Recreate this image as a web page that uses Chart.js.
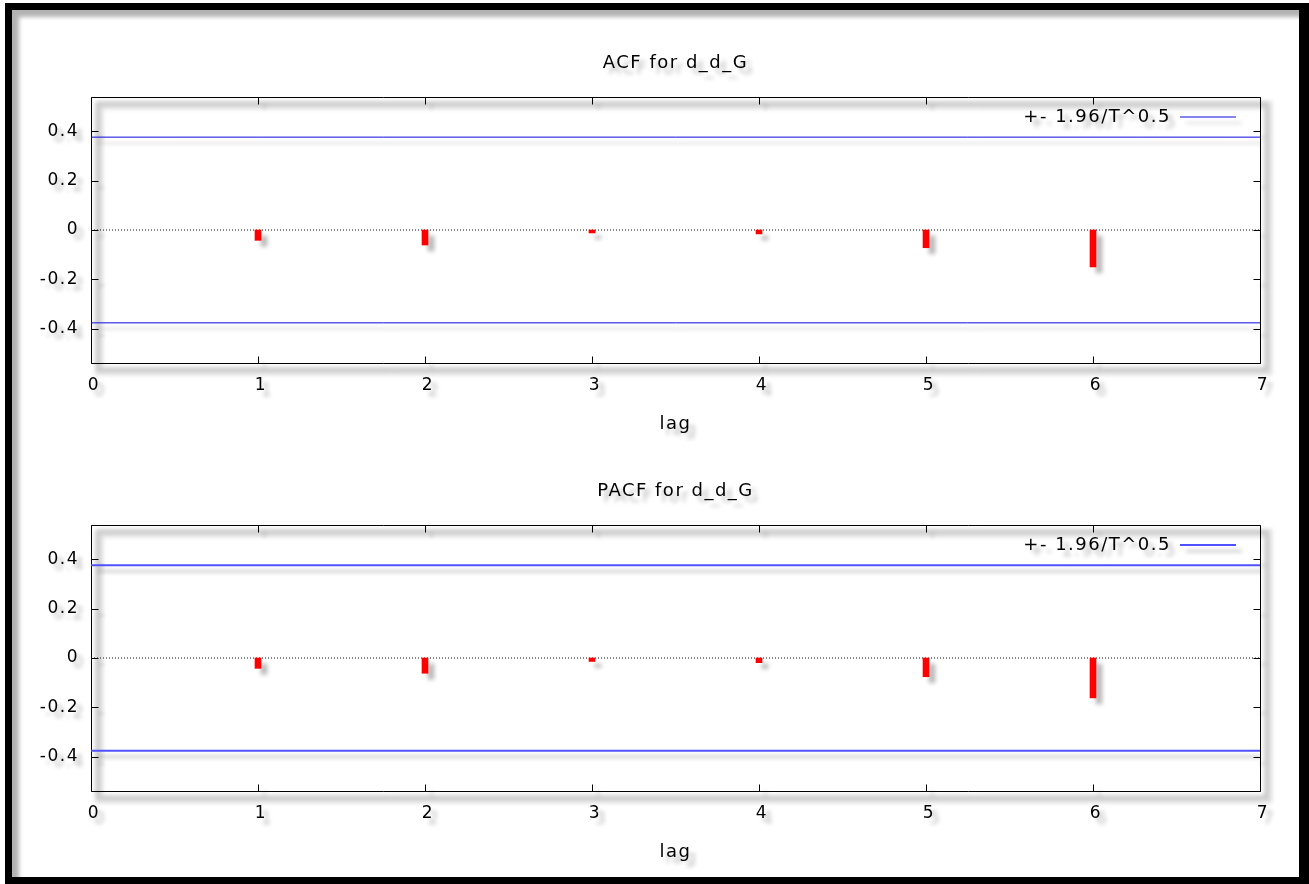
<!DOCTYPE html>
<html><head><meta charset="utf-8">
<script src="https://cdn.jsdelivr.net/npm/chart.js@4.4.0/dist/chart.umd.min.js"></script>
<style>
html,body{margin:0;padding:0;background:#fff;width:1309px;height:884px;overflow:hidden;position:relative;}
#frame{position:absolute;left:5px;top:3px;width:1304px;height:881px;box-sizing:border-box;border-style:solid;border-color:#000;border-width:7px 10px 7px 7px;box-shadow:inset 7px 7px 4px rgba(0,0,0,0.3);}
.wrap{position:absolute;left:0;width:1309px;height:442px;}
canvas{display:block}
</style></head><body>
<div id="frame"></div>
<div class="wrap" style="top:0"><canvas id="acf" width="1309" height="442"></canvas></div>
<div class="wrap" style="top:428px"><canvas id="pacf" width="1309" height="442"></canvas></div>
<script>
// ---- data ----
const lags = [1, 2, 3, 4, 5, 6];
const acfValues  = [-0.042, -0.061, -0.012, -0.016, -0.072, -0.150];
const pacfValues = [-0.042, -0.062, -0.014, -0.019, -0.076, -0.162];
const bandValue = 0.377;              // 1.96/sqrt(T)
const xTicks = [0, 1, 2, 3, 4, 5, 6, 7];
const yTicks = [-0.4, -0.2, 0, 0.2, 0.4];
const xRange = [0, 7];
const yRange = [-0.54, 0.54];
const chartTitles = ['ACF for d_d_G', 'PACF for d_d_G'];
const legendLabel = '+- 1.96/T^0.5';
const xAxisTitle = 'lag';

// ---- styling / helpers ----
const FAMILY = "'DejaVu Sans', Verdana, sans-serif";
const fnt = (s) => ({family: FAMILY, size: s, weight: 'normal', lineHeight: 1.2});
const SPACING = '1.5px';

const decorPlugin = {
  id: 'decor',
  beforeUpdate(chart) { chart.ctx.letterSpacing = SPACING; },
  afterLayout(chart) {
    const a = chart.chartArea;
    const lg = chart.legend;
    if (lg) {
      lg.left = a.left; lg.top = a.top;
      lg.width = (a.right - a.left) - 13;
      lg.right = lg.left + lg.width;
      lg.bottom = lg.top + lg.height;
    }
    const tb = chart.titleBlock;
    if (tb) { tb.left = a.left; tb.right = a.right; tb.width = a.right - a.left; }
  },
  beforeDraw(chart) {
    const c = chart.ctx, a = chart.chartArea;
    c.letterSpacing = SPACING;
    c.save();
    c.filter = 'blur(2px)';
    c.strokeStyle = 'rgba(0,0,0,0.14)';
    c.lineWidth = 8;
    c.strokeRect(a.left + 8, a.top + 8, a.right - a.left, a.bottom - a.top);
    c.restore();
    c.shadowColor = 'rgba(0,0,0,0.28)';
    c.shadowOffsetX = 6; c.shadowOffsetY = 6; c.shadowBlur = 4;
  },
  beforeDatasetsDraw(chart) {
    const c = chart.ctx, a = chart.chartArea, xs = chart.scales.x, ys = chart.scales.y;
    c.save();
    c.strokeStyle = '#000'; c.lineWidth = 1;
    c.beginPath();
    const L = Math.round(a.left) + 0.5, R = Math.round(a.right) + 0.5, T = Math.round(a.top) + 0.5, B = Math.round(a.bottom) + 0.5;
    c.rect(L, T, R - L, B - T);
    xTicks.forEach(v => { const x = Math.round(xs.getPixelForValue(v)) + 0.5; c.moveTo(x, B); c.lineTo(x, B - 7); c.moveTo(x, T); c.lineTo(x, T + 7); });
    yTicks.forEach(v => { const y = Math.round(ys.getPixelForValue(v)) + 0.5; c.moveTo(L, y); c.lineTo(L + 7, y); c.moveTo(R, y); c.lineTo(R - 7, y); });
    c.stroke();
    c.restore();
  },
  beforeDatasetDraw(chart, args) {
    if (chart.data.datasets[args.index].noShadow) { chart.ctx.save(); chart.ctx.shadowColor = 'rgba(0,0,0,0)'; }
  },
  afterDatasetDraw(chart, args) {
    if (chart.data.datasets[args.index].noShadow) chart.ctx.restore();
  },
  afterDraw(chart) {
    const c = chart.ctx;
    c.shadowColor = 'rgba(0,0,0,0)'; c.shadowOffsetX = 0; c.shadowOffsetY = 0; c.shadowBlur = 0;
  }
};

function makeChart(id, title, values, bandColor, bandWidth) {
  const pts = (v) => xRange.map(x => ({x, y: v}));
  return new Chart(document.getElementById(id), {
    type: 'bar',
    data: {
      datasets: [
        {type: 'bar', label: 'corr', data: lags.map((l, i) => ({x: l, y: values[i]})),
         backgroundColor: '#ff0000', borderWidth: 0, barThickness: 6, grouped: false},
        {type: 'line', label: 'zero', data: pts(0), borderColor: '#111', borderWidth: 1,
         borderDash: [1, 2], pointRadius: 0, noShadow: true},
        {type: 'line', label: legendLabel, data: pts(bandValue), borderColor: bandColor,
         borderWidth: bandWidth, pointRadius: 0},
        {type: 'line', label: 'lower', data: pts(-bandValue), borderColor: bandColor,
         borderWidth: bandWidth, pointRadius: 0}
      ]
    },
    options: {
      responsive: false,
      animation: false,
      devicePixelRatio: 1,
      layout: {padding: {left: 0, right: 49, top: 0, bottom: 0}},
      plugins: {
        title: {display: true, text: title, font: fnt(18), color: '#000', padding: {top: 52.7, bottom: 22.7}},
        legend: {
          position: 'chartArea', align: 'start', rtl: true,
          labels: {
            filter: (item) => item.text === legendLabel,
            usePointStyle: true, pointStyle: 'line', pointStyleWidth: 56,
            font: fnt(18), color: '#000', padding: 11
          }
        },
        tooltip: {enabled: false}
      },
      scales: {
        x: {
          type: 'linear', min: xRange[0], max: xRange[1], offset: false,
          afterBuildTicks: (s) => { s.ticks = xTicks.map(v => ({value: v})); },
          afterFit: (s) => { s.height = 79; },
          ticks: {font: fnt(17), color: '#000', padding: 12, labelOffset: 3, maxRotation: 0, autoSkip: false, callback: (v) => String(v)},
          grid: {display: false, drawTicks: false},
          border: {display: false},
          title: {display: true, text: xAxisTitle, font: fnt(18), color: '#000', padding: {top: 0, bottom: 7}}
        },
        y: {
          min: yRange[0], max: yRange[1],
          afterBuildTicks: (s) => { s.ticks = yTicks.map(v => ({value: v})); },
          afterFit: (s) => { s.width = 91; },
          ticks: {font: fnt(17), color: '#000', padding: 12, callback: (v) => (v === 0 ? '0' : v.toFixed(1))},
          grid: {display: false, drawTicks: false},
          border: {display: false}
        }
      }
    },
    plugins: [decorPlugin]
  });
}

makeChart('acf', chartTitles[0], acfValues, 'rgb(10,10,225)', 1);
makeChart('pacf', chartTitles[1], pacfValues, 'rgb(80,80,255)', 2);
</script>
</body></html>
